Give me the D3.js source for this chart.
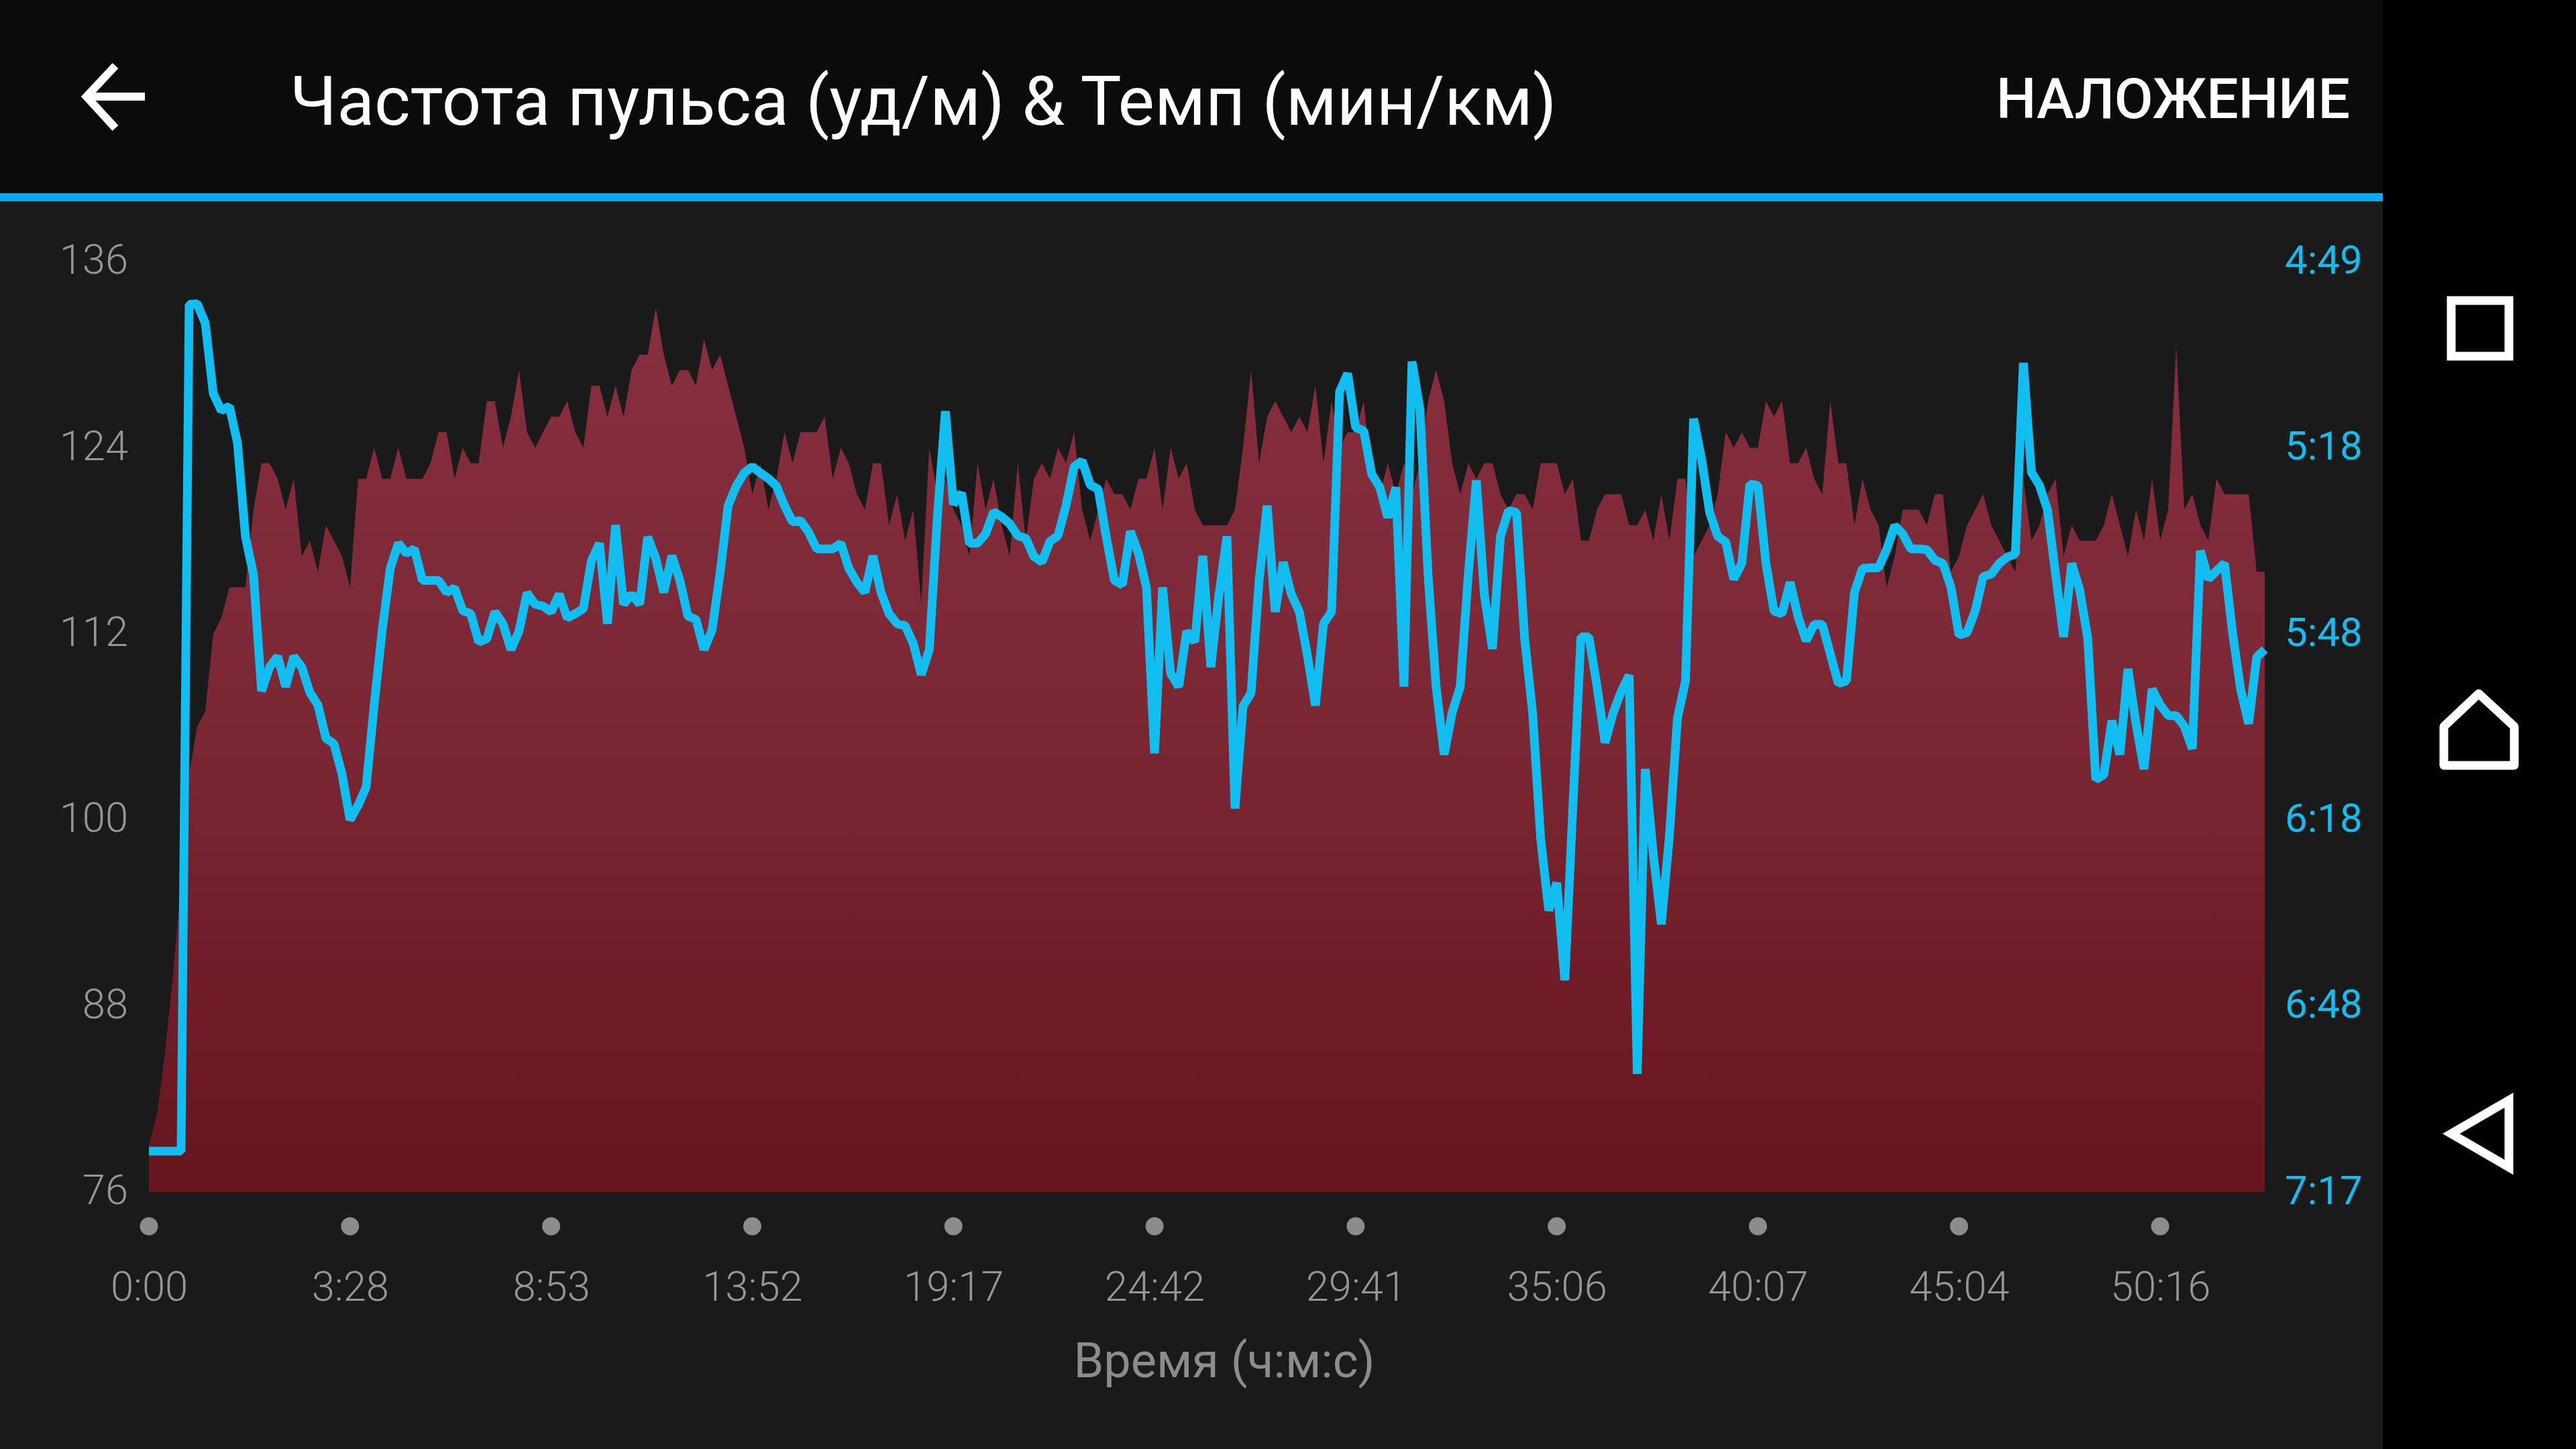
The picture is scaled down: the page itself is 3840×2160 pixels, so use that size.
<!DOCTYPE html>
<html><head><meta charset="utf-8">
<script src="https://cdn.jsdelivr.net/npm/d3@7/dist/d3.min.js"></script>
<style>html,body{margin:0;padding:0;background:#000}svg{display:block}text{font-family:Roboto,sans-serif}</style>
</head><body><div id="chart"></div>
<script>
// Heart rate (bpm), one value per sample
const heartRate = [
79,81,85,90,96,103,106,107,112,113,
115,115,115,120,123,123,122,120,122,117,
118,116,119,118,117,115,122,122,124,122,
122,124,122,122,122,123,125,125,122,124,
123,123,127,127,124,126,129,125,124,125,
126,126,127,125,124,128,128,126,128,126,
129,130,130,133,130,128,129,129,128,131,
129,130,128,126,124,121,123,120,122,125,
123,125,125,125,126,122,124,123,121,120,
123,123,119,121,118,120,114,124,121,122,
120,119,117,123,120,122,119,117,123,118,
122,123,122,124,123,125,120,118,120,122,
121,121,120,122,122,124,120,124,122,123,
120,119,119,119,119,120,124,129,123,126,
127,126,125,126,125,128,123,127,124,125,
125,127,122,121,123,121,123,121,123,127,
129,127,123,121,123,122,123,123,121,120,
121,121,120,123,123,123,121,122,118,118,
120,121,121,121,119,119,120,118,121,118,
122,122,117,118,119,121,125,124,125,124,
124,127,126,127,123,123,124,122,121,127,
123,123,119,122,120,119,115,117,120,120,
120,119,121,121,116,117,119,120,121,119,
118,117,116,122,118,119,121,122,117,119,
118,118,118,119,121,119,117,120,118,122,
118,120,130.5,120,121,119,118,122,121,121,
121,121,116,116];
// Pace (seconds per km), one value per sample
const paceSeconds = [
430.5,430.5,430.5,430.5,430.5,295.8,295.7,298.8,310,312.7,
312,317.8,332.8,338.8,357.3,353.5,351.8,356.6,351.8,353.5,
357.5,359.5,364.8,365.7,370.5,377.8,375.5,372.6,359.5,347.6,
337.8,333.8,335.4,334.7,339.7,339.7,339.7,341.6,340.9,344.5,
345,349.5,349,344.7,346.6,350.7,347.8,341.7,343.5,343.8,
344.7,341.9,345.7,345,344.2,336.6,333.8,346.6,330.9,343.5,
341.9,343.5,332.8,336.2,341.6,335.8,339.7,345.4,345.9,350.7,
347.6,338.5,327.8,324.7,322.6,321.6,322.6,323.5,324.7,327.8,
330.4,330.2,332,334.7,334.7,334.7,333.8,337.8,340,341.6,
335.8,341.6,345,346.6,346.9,349.7,354.7,350.7,329.7,312.8,
327.6,325.8,333.8,333.8,332.3,328.8,329.6,330.7,332.6,333,
335.9,336.8,333.5,332.6,327.8,321.6,320.7,324.5,325.2,332.8,
339.7,340.4,331.9,335.4,340.9,367.2,340.8,354.5,356.6,347.8,
349.5,335.8,353.5,342.1,332.7,376,359.7,357.6,339.7,327.8,
344.7,336.8,341.9,344.7,351.6,359.6,346.6,344.7,309.7,306.8,
315.4,315.9,322.8,324.9,329.7,324.9,356.6,304.9,312.6,338.8,
356.6,367.4,360.7,356.6,338.8,323.8,342,350.6,332.7,328.6,
328.9,348.9,360.8,380.8,392.2,387.8,403.3,375.7,348.7,348.7,
356.5,365.5,360.8,357.4,354.8,418.2,369.7,383.3,394.4,380.3,
361.6,355.7,314,320.4,328.9,332.7,333.6,339.5,337,324.4,
324.6,337,344.6,345,340,345.5,349.3,346.7,346.7,351.4,
356.1,355.7,341.6,337.8,337.7,337.7,334.8,331,332.3,334.7,
334.7,334.8,336.5,337,340.8,348.4,348,344.6,339.1,338.7,
337,336,335.5,305.1,322.5,324.6,328.5,338.7,348.7,337,
341.2,348.9,371.4,370.6,362,367.4,353.8,362.5,369.7,357,
359.5,361.2,361.2,362.9,366.5,335,339.5,338.2,337,348,
357,362.5,351.9,350.7];
const heartTicks = [136,124,112,100,88,76];
const paceTickValues = [289,318.6,348.2,377.8,407.4,437];
const paceTickLabels = ["4:49","5:18","5:48","6:18","6:48","7:17"];
const timeTickSamples = [0,25,50,75,100,125,150,175,200,225,250];
const timeTickLabels = ["0:00","3:28","8:53","13:52","19:17","24:42","29:41","35:06","40:07","45:04","50:16"];
const titleText = "Частота пульса (уд/м) & Темп (мин/км)";
const actionText = "НАЛОЖЕНИЕ";
const xAxisTitle = "Время (ч:м:с)";

const W=3840,H=2160;
const svg=d3.select("#chart").append("svg").attr("width",W).attr("height",H);
svg.append("rect").attr("width",W).attr("height",H).attr("fill","#000");
svg.append("rect").attr("width",3552).attr("height",H).attr("fill","#1a1a1a");
svg.append("rect").attr("width",3552).attr("height",288).attr("fill","#0b0b0b");
svg.append("rect").attr("y",288).attr("width",3552).attr("height",12).attr("fill","#10a9ea");

const x=d3.scaleLinear().domain([0,263]).range([222,3376]);
const yH=d3.scaleLinear().domain([76,136]).range([1777,390]);
const yP=d3.scaleLinear().domain([437,289]).range([1777,390]);

const defs=svg.append("defs");
const g=defs.append("linearGradient").attr("id","hrFill").attr("gradientUnits","userSpaceOnUse")
 .attr("x1",0).attr("x2",0).attr("y1",450).attr("y2",1777);
g.append("stop").attr("offset",0).attr("stop-color","#873040");
g.append("stop").attr("offset",0.5).attr("stop-color","#7a2633");
g.append("stop").attr("offset",1).attr("stop-color","#67151f");

svg.append("path").datum(heartRate)
 .attr("d",d3.area().x((d,i)=>x(i)).y0(yH(76)).y1(d=>yH(d)))
 .attr("fill","url(#hrFill)");
svg.append("path").datum(paceSeconds)
 .attr("d",d3.line().x((d,i)=>x(i)).y(d=>yP(d)))
 .attr("fill","none").attr("stroke","#12bdf0").attr("stroke-width",13).attr("stroke-linejoin","bevel");

function clean(a){a.select(".domain").remove();a.selectAll(".tick line").remove();
 a.selectAll("text").attr("font-family","Roboto").attr("font-weight",300).attr("font-size",61.5);}
const la=svg.append("g").attr("transform","translate(191,-2)")
 .call(d3.axisLeft(yH).tickValues(heartTicks).tickSize(0).tickPadding(0));
clean(la); la.selectAll("text").attr("fill","#969696");
const ra=svg.append("g").attr("transform","translate(3406,-2)")
 .call(d3.axisRight(yP).tickValues(paceTickValues).tickSize(0).tickPadding(0)
   .tickFormat((d,i)=>paceTickLabels[i]));
clean(ra); ra.selectAll("text").attr("fill","#12bdf0").attr("font-weight",400).attr("font-size",60);
const ba=svg.append("g").attr("transform","translate(0,1917)")
 .call(d3.axisBottom(x).tickValues(timeTickSamples).tickSize(0).tickPadding(0)
   .tickFormat((d,i)=>timeTickLabels[i]));
clean(ba); ba.selectAll("text").attr("fill","#969696").attr("dy","0.35em").attr("y",0);
svg.append("g").selectAll("circle").data(timeTickSamples).join("circle")
 .attr("cx",d=>x(d)).attr("cy",1828).attr("r",13.5).attr("fill","#8c8c8c");

svg.append("text").attr("x",1825).attr("y",2028).attr("dy","0.35em").attr("text-anchor","middle")
 .attr("font-size",72).attr("font-weight",400).attr("fill","#8c8c8c").text(xAxisTitle);
svg.append("text").attr("x",432).attr("y",150).attr("dy","0.35em")
 .attr("font-size",102.5).attr("font-weight",400).attr("fill","#fff").text(titleText);
svg.append("text").attr("x",3503).attr("y",147).attr("dy","0.35em").attr("text-anchor","end")
 .attr("font-size",84).attr("font-weight",500).attr("fill","#fff").text(actionText);

const icon={fill:"none",stroke:"#fff","stroke-width":13};
function ic(d,w,j){const p=svg.append("path").attr("d",d);Object.entries(icon).forEach(([k,v])=>p.attr(k,v));
 p.attr("stroke-linejoin",j||"miter").attr("stroke-width",w||13);}
ic("M172,98 L129,144 L172,191 M129,144 L216,144",12);
ic("M3654,448 H3740 V531 H3654 Z");
ic("M3643,1141 V1083 L3695,1034 L3748,1083 V1141 Z",13,"round");
ic("M3740,1640 L3654,1690 L3740,1740 Z");
</script></body></html>
